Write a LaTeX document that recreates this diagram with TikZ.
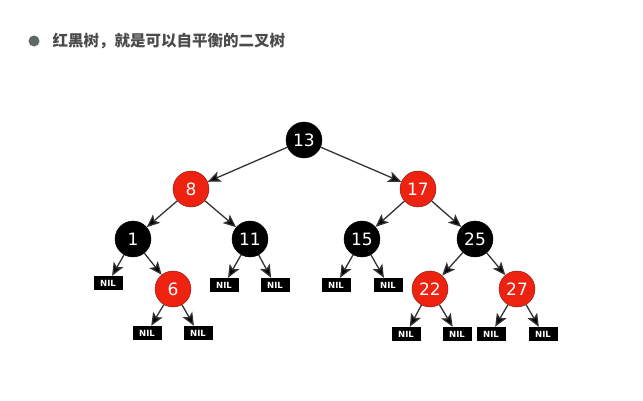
\documentclass[tikz,border=0pt]{standalone}
\usepackage{fontspec}
\setsansfont{DejaVu Sans}
\newfontfamily\cjk{Noto Sans CJK SC}
\usetikzlibrary{arrows.meta}
\definecolor{rbred}{HTML}{EE2211}
\definecolor{rbedge}{HTML}{7A1810}
\definecolor{titlegray}{HTML}{4A4A4A}
\definecolor{bulletgray}{HTML}{5E6862}

\begin{document}
\begin{tikzpicture}[x=1pt,y=-1pt,
  blknode/.style={circle,draw=black,fill=black,minimum size=36pt,inner sep=0pt,text=white,font=\sffamily\fontsize{17}{17}\selectfont},
  rednode/.style={blknode,draw=rbedge,fill=rbred},
  nil/.style={fill=black,text=white,minimum width=29pt,minimum height=14pt,inner sep=0pt,font=\sffamily\bfseries\fontsize{8.5}{8.5}\selectfont},
  ar/.style={-{Stealth[length=13pt,width=11pt,inset=3pt,fill=black]},line width=1.3pt,draw=black!80}]
\useasboundingbox (0,0) rectangle (643,400);
% title line
\node[circle,fill=bulletgray,minimum size=11pt,inner sep=0pt] (dot) at (34,41) {};
\node[anchor=west,text=titlegray,font=\cjk\bfseries\fontsize{15.5}{15.5}\selectfont] (title) at (49,41) {红黑树，就是可以自平衡的二叉树};
% tree nodes
\node[blknode] (n13) at (304,140) {13};
\node[rednode] (n8) at (191,189) {8};
\node[rednode] (n17) at (418,189) {17};
\node[blknode] (n1) at (133,239) {1};
\node[blknode] (n11) at (250,239) {11};
\node[blknode] (n15) at (362,239) {15};
\node[blknode] (n25) at (475,239) {25};
\node[rednode] (n6) at (173,289) {6};
\node[rednode] (n22) at (430,289) {22};
\node[rednode] (n27) at (517,289) {27};
% leaves
\node[nil] (l1) at (108,283) {NIL};
\node[nil] (l2) at (224,285) {NIL};
\node[nil] (l3) at (275,285) {NIL};
\node[nil] (l4) at (336,285) {NIL};
\node[nil] (l5) at (388,285) {NIL};
\node[nil] (l6) at (147,333) {NIL};
\node[nil] (l7) at (198,333) {NIL};
\node[nil] (l8) at (406,334) {NIL};
\node[nil] (l9) at (457,334) {NIL};
\node[nil] (l10) at (491,334) {NIL};
\node[nil] (l11) at (543,334) {NIL};
% edges
\draw[ar] (n13) -- (n8);
\draw[ar] (n13) -- (n17);
\draw[ar] (n8) -- (n1);
\draw[ar] (n8) -- (n11);
\draw[ar] (n17) -- (n15);
\draw[ar] (n17) -- (n25);
\draw[ar] (n1) -- (l1);
\draw[ar] (n1) -- (n6);
\draw[ar] (n11) -- (l2);
\draw[ar] (n11) -- (l3);
\draw[ar] (n15) -- (l4);
\draw[ar] (n15) -- (l5);
\draw[ar] (n25) -- (n22);
\draw[ar] (n25) -- (n27);
\draw[ar] (n6) -- (l6);
\draw[ar] (n6) -- (l7);
\draw[ar] (n22) -- (l8);
\draw[ar] (n22) -- (l9);
\draw[ar] (n27) -- (l10);
\draw[ar] (n27) -- (l11);
\end{tikzpicture}
\end{document}
